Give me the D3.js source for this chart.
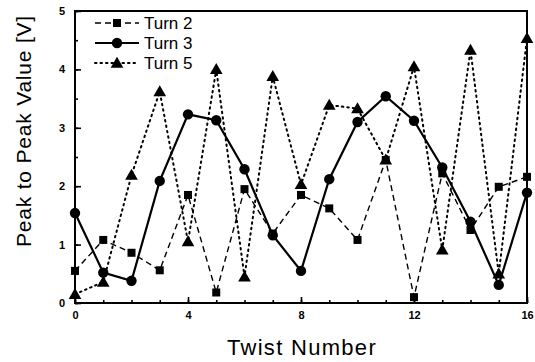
<!DOCTYPE html>
<html>
<head>
<meta charset="utf-8">
<script src="https://cdn.jsdelivr.net/npm/d3@7"></script>
<style>
  body { margin: 0; background: #fff; }
  svg { font-family: "Liberation Sans", Arial, sans-serif; }
</style>
</head>
<body>
<div id="chart"></div>
<script>
// twist number 0..16
var twists = [0, 1, 2, 3, 4, 5, 6, 7, 8, 9, 10, 11, 12, 13, 14, 15, 16];
var turn2 = [0.55, 1.08, 0.86, 0.56, 1.85, 0.18, 1.95, 1.19, 1.85, 1.62, 1.08, 2.45, 0.1, 2.22, 1.25, 1.99, 2.16];
var turn3 = [1.54, 0.52, 0.38, 2.09, 3.23, 3.13, 2.29, 1.16, 0.55, 2.12, 3.10, 3.54, 3.12, 2.32, 1.39, 0.31, 1.89];
var turn5 = [0.15, 0.36, 2.19, 3.62, 1.05, 4.0, 0.45, 3.88, 2.03, 3.39, 3.33, 2.45, 4.05, 0.91, 4.33, 0.5, 4.53];
var xTicks = [0, 4, 8, 12, 16];
var yTicks = [0, 1, 2, 3, 4, 5];

var series = [
    {name: "Turn 2", values: turn2, dash: "6,4", width: 1.4, marker: "square"},
    {name: "Turn 3", values: turn3, dash: null, width: 2.2, marker: "circle"},
    {name: "Turn 5", values: turn5, dash: "1.5,4", width: 2, marker: "triangle"}
];

var margin = {top: 11, right: 8, bottom: 59, left: 75},
    width = 535 - margin.left - margin.right,
    height = 362 - margin.top - margin.bottom;

var svg = d3.select("#chart")
    .append("svg")
    .attr("width", 535)
    .attr("height", 362)
    .append("g")
    .attr("transform", "translate(" + margin.left + "," + margin.top + ")");

var x = d3.scaleLinear().domain([0, 16]).range([0, width]);
var y = d3.scaleLinear().domain([0, 5]).range([height, 0]);

// frame
svg.append("rect")
    .attr("width", width).attr("height", height)
    .attr("fill", "none").attr("stroke", "#000").attr("stroke-width", 2);

// bottom axis, ticks inward
var xAxis = svg.append("g")
    .attr("transform", "translate(0," + height + ")")
    .call(d3.axisBottom(x).tickValues(xTicks).tickSize(-6).tickPadding(8).tickFormat(d3.format("d")));
var xMinor = svg.append("g")
    .attr("transform", "translate(0," + height + ")")
    .call(d3.axisBottom(x).tickValues(d3.range(0, 17)).tickSize(-3).tickFormat(""));

var yAxis = svg.append("g")
    .call(d3.axisLeft(y).tickValues(yTicks).tickSize(-6).tickPadding(10).tickFormat(d3.format("d")));
var yMinor = svg.append("g")
    .call(d3.axisLeft(y).tickValues(d3.range(0, 5.01, 0.5)).tickSize(-3).tickFormat(""));

[xAxis, xMinor, yAxis, yMinor].forEach(function (g) {
    g.select(".domain").remove();
    g.selectAll("line").attr("stroke", "#000").attr("stroke-width", 1.6);
    g.selectAll("text").attr("fill", "#000").style("font-size", "11px").style("font-weight", "bold");
});

// lines
var line = d3.line()
    .x(function (d, i) { return x(twists[i]); })
    .y(function (d) { return y(d); });

series.forEach(function (s) {
    svg.append("path")
        .datum(s.values)
        .attr("fill", "none")
        .attr("stroke", "#000")
        .attr("stroke-width", s.width)
        .attr("stroke-linecap", s.dash === "1.5,4" ? "round" : "butt")
        .attr("stroke-dasharray", s.dash)
        .attr("d", line);
});

function drawMarker(g, type, cx, cy) {
    if (type === "square") {
        g.append("rect").attr("x", cx - 4).attr("y", cy - 4).attr("width", 8).attr("height", 8).attr("fill", "#000");
    } else if (type === "circle") {
        g.append("circle").attr("cx", cx).attr("cy", cy).attr("r", 5.2).attr("fill", "#000");
    } else {
        g.append("path").attr("d", d3.symbol().type(d3.symbolTriangle).size(70)()).attr("transform", "translate(" + cx + "," + (cy + 1) + ")").attr("fill", "#000");
    }
}

series.forEach(function (s) {
    var g = svg.append("g");
    s.values.forEach(function (v, i) {
        drawMarker(g, s.marker, x(twists[i]), y(v));
    });
});

// legend
var legend = svg.append("g").attr("transform", "translate(20,12)");
series.forEach(function (s, i) {
    var row = legend.append("g").attr("transform", "translate(0," + (i * 20) + ")");
    row.append("line")
        .attr("x1", 0).attr("x2", 44).attr("y1", 0).attr("y2", 0)
        .attr("stroke", "#000").attr("stroke-width", s.width)
        .attr("stroke-linecap", s.dash === "1.5,4" ? "round" : "butt")
        .attr("stroke-dasharray", s.dash);
    drawMarker(row, s.marker, 22, 0);
    row.append("text").attr("x", 49).attr("y", 6)
        .style("font-size", "17px").text(s.name);
});

// axis titles
svg.append("text")
    .attr("x", width / 2 + 1).attr("y", height + 52)
    .attr("text-anchor", "middle")
    .style("font-size", "22px").style("letter-spacing", "1.3px")
    .text("Twist Number");

svg.append("text")
    .attr("transform", "rotate(-90)")
    .attr("x", -120).attr("y", -44)
    .attr("text-anchor", "middle")
    .style("font-size", "21px").style("letter-spacing", "0.8px")
    .text("Peak to Peak Value [V]");
</script>
</body>
</html>
